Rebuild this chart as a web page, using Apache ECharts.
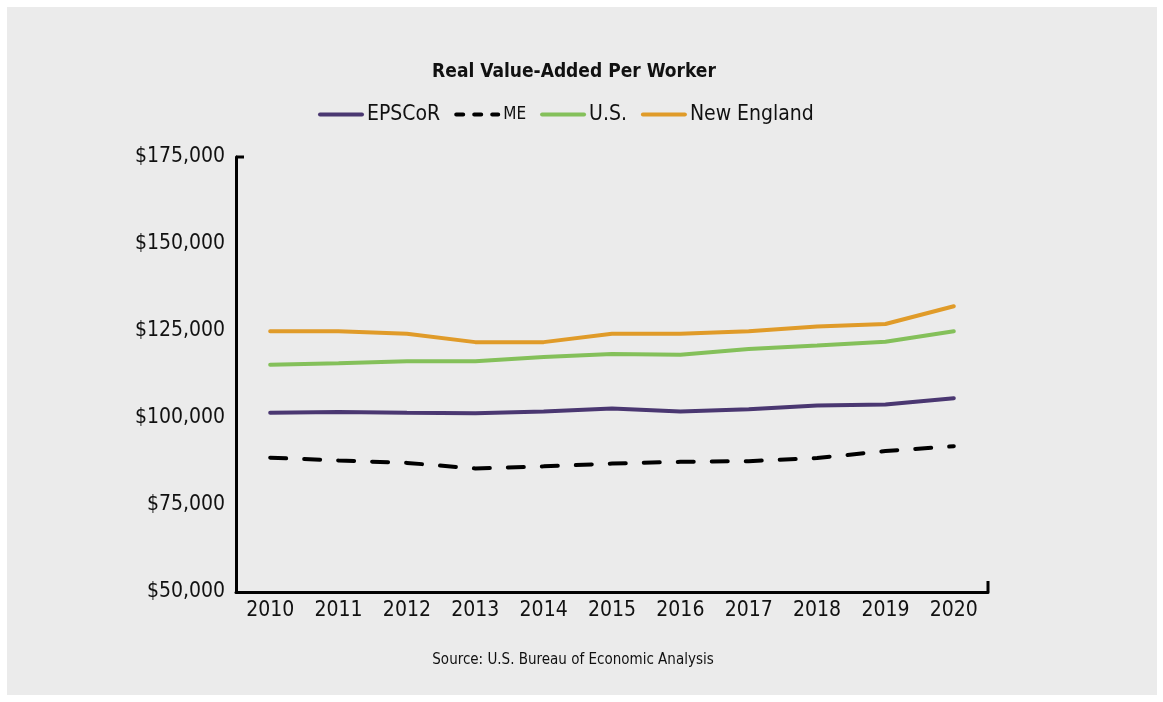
<!DOCTYPE html>
<html>
<head>
<meta charset="utf-8">
<script src="https://cdn.jsdelivr.net/npm/echarts@6/dist/echarts.min.js"></script>
<style>
  html, body { margin: 0; padding: 0; background: #ffffff; }
  #main { width: 1163px; height: 702px; }
</style>
</head>
<body>
<div id="main"></div>
<script>
  // data
  var years = ['2010', '2011', '2012', '2013', '2014', '2015', '2016', '2017', '2018', '2019', '2020'];
  var epscor = [101500, 101700, 101500, 101400, 101900, 102700, 101900, 102500, 103600, 103900, 105700];
  var me = [88600, 87800, 87100, 85500, 86100, 86900, 87400, 87600, 88500, 90500, 91900];
  var us = [115300, 115700, 116300, 116300, 117500, 118400, 118200, 119800, 120800, 121900, 124900];
  var newEngland = [124900, 124900, 124200, 121800, 121800, 124200, 124200, 124900, 126300, 127000, 132100];

  var font = '"Liberation Sans Narrow", "DejaVu Sans Condensed", sans-serif';

  var chart = echarts.init(document.getElementById('main'));

  function line(name, data, color, dashed) {
    return {
      name: name,
      type: 'line',
      data: data,
      symbol: 'none',
      lineStyle: {
        color: color,
        width: 4,
        type: dashed ? [16, 18] : 'solid',
        cap: 'round'
      },
      itemStyle: { color: color }
    };
  }

  var panel = {
    type: 'rect',
    shape: { x: 7, y: 7, width: 1150, height: 688 },
    style: { fill: '#ebebeb' },
    z: -10,
    silent: true
  };

  var option = {
    backgroundColor: '#ffffff',
    animation: false,
    graphic: { elements: [panel] },
    title: [
      {
        text: 'Real Value-Added Per Worker',
        left: 569,
        textAlign: 'center',
        top: 58,
        textStyle: { fontFamily: font, fontSize: 19, fontWeight: 'bold', color: '#111' }
      },
      {
        text: 'Source: U.S. Bureau of Economic Analysis',
        left: 568,
        textAlign: 'center',
        top: 648,
        textStyle: { fontFamily: font, fontSize: 15, fontWeight: 'normal', color: '#111' }
      }
    ],
    legend: {
      left: 313,
      top: 99,
      itemWidth: 42,
      itemHeight: 14,
      itemGap: 14,
      itemStyle: { opacity: 0 },
      lineStyle: { width: 4, cap: 'round' },
      textStyle: {
        fontFamily: font,
        fontSize: 21,
        color: '#111',
        rich: {
          s: { fontFamily: font, fontSize: 17, color: '#111' }
        }
      },
      formatter: function (name) {
        return name === 'ME' ? '{s|ME}' : name;
      },
      data: [
        { name: 'EPSCoR' },
        { name: 'ME', lineStyle: { type: [7, 11], cap: 'round', width: 4 } },
        { name: 'U.S.' },
        { name: 'New England' }
      ]
    },
    grid: {
      left: 236,
      right: 175,
      top: 157,
      bottom: 110
    },
    xAxis: {
      type: 'category',
      data: years,
      boundaryGap: true,
      axisLine: { lineStyle: { color: '#000', width: 3 } },
      axisTick: { show: false },
      axisLabel: { fontFamily: font, fontSize: 21, color: '#111', margin: 8 },
      splitLine: { show: false }
    },
    yAxis: {
      type: 'value',
      min: 50000,
      max: 175000,
      interval: 25000,
      axisLine: { show: true, lineStyle: { color: '#000', width: 3 } },
      axisTick: { show: false },
      splitLine: { show: false },
      axisLabel: {
        fontFamily: font,
        fontSize: 21,
        color: '#111',
        margin: 11,
        formatter: function (v) { return '$' + v.toLocaleString('en-US'); }
      }
    },
    series: [
      line('EPSCoR', epscor, '#4a3771', false),
      line('ME', me, '#000000', true),
      line('U.S.', us, '#84c05a', false),
      line('New England', newEngland, '#e09b29', false)
    ]
  };

  chart.setOption(option);

  // small end ticks at the axis ends, placed from the chart's own scales
  var yTop = chart.convertToPixel({ yAxisIndex: 0 }, 175000);
  var yBottom = chart.convertToPixel({ yAxisIndex: 0 }, 50000);
  var xFirst = chart.convertToPixel({ xAxisIndex: 0 }, years[0]);
  var xLast = chart.convertToPixel({ xAxisIndex: 0 }, years[years.length - 1]);
  var halfBand = (xLast - xFirst) / (years.length - 1) / 2;
  var xLeft = xFirst - halfBand;
  var xRight = xLast + halfBand;

  chart.setOption({
    graphic: {
      elements: [
        panel,
        {
          type: 'line',
          shape: { x1: xLeft, y1: yTop, x2: xLeft + 8, y2: yTop },
          style: { stroke: '#000', lineWidth: 3 }
        },
        {
          type: 'line',
          shape: { x1: xRight, y1: yBottom, x2: xRight, y2: yBottom - 11 },
          style: { stroke: '#000', lineWidth: 3 }
        }
      ]
    }
  });
</script>
</body>
</html>
